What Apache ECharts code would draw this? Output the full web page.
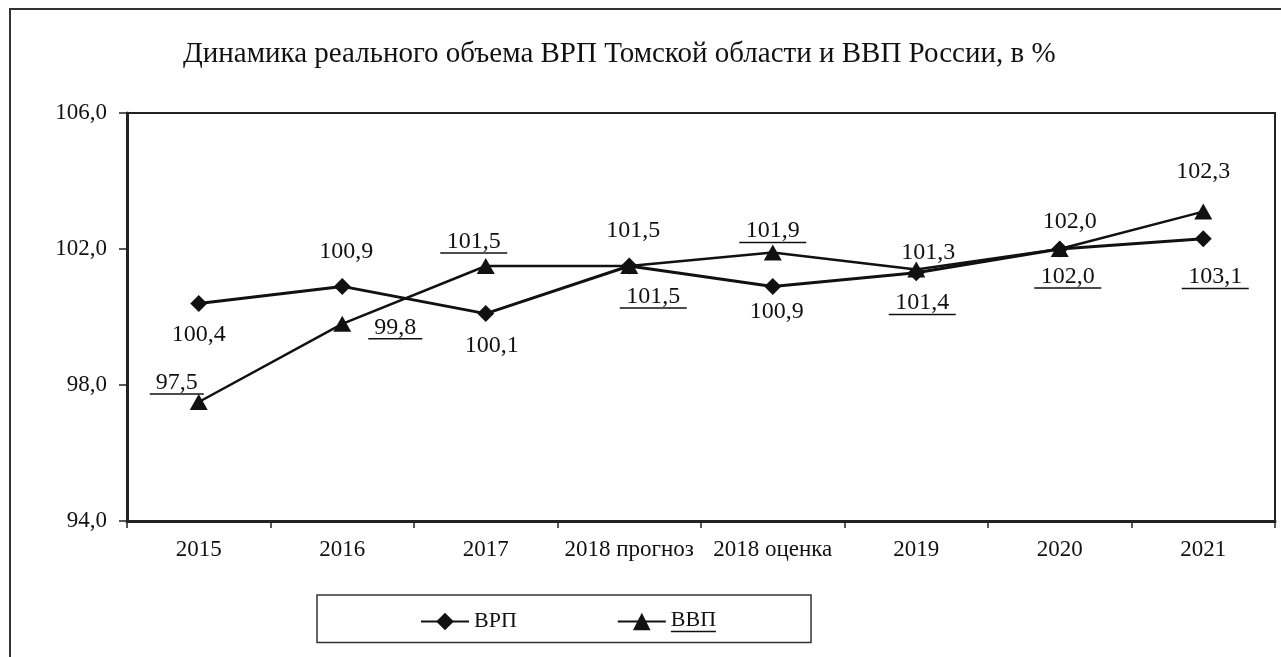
<!DOCTYPE html>
<html>
<head>
<meta charset="utf-8">
<script src="https://cdn.jsdelivr.net/npm/echarts@6/dist/echarts.min.js"></script>
<style>
  html, body { margin: 0; padding: 0; background: #fff; }
  #chart { width: 1281px; height: 657px; }
</style>
</head>
<body>
<div id="chart"></div>
<script>
var categories = ['2015', '2016', '2017', '2018 прогноз', '2018 оценка', '2019', '2020', '2021'];
var vrp = [100.4, 100.9, 100.1, 101.5, 100.9, 101.3, 102.0, 102.3];
var vvp = [97.5, 99.8, 101.5, 101.5, 101.9, 101.4, 102.0, 103.1];
var yTicks = [94, 98, 102, 106];

var FONT = 'Liberation Serif';
var INK = '#111';

function fmt(v) {
  return v.toFixed(1).replace('.', ',');
}

// label placement around each point, as seen on the picture
var vrpLabelOffset = [[0, 31], [4, -35], [6, 32], [4, -35], [4, 25], [12, -20], [10, -27], [0, -67]];
var vvpLabelOffset = [[-22, -18], [53, 5], [-12, -23], [24, 32], [0, -20], [6, 35], [8, 29], [12, 67]];

function vrpData() {
  return vrp.map(function (v, i) {
    return {
      value: v,
      label: { offset: vrpLabelOffset[i] }
    };
  });
}

function vvpData() {
  return vvp.map(function (v, i) {
    return {
      value: v,
      label: { offset: vvpLabelOffset[i] }
    };
  });
}

var chart = echarts.init(document.getElementById('chart'));

var option = {
  backgroundColor: '#fff',
  animation: false,
  textStyle: { fontFamily: FONT, color: INK },
  title: {
    text: 'Динамика реального объема ВРП Томской области и ВВП России, в %',
    left: 178,
    top: 35,
    textStyle: { fontFamily: FONT, fontSize: 29, fontWeight: 'normal', color: INK }
  },
  graphic: [
    {
      type: 'rect',
      shape: { x: 10, y: 9, width: 1300, height: 700 },
      style: { fill: 'none', stroke: '#333', lineWidth: 2 },
      silent: true
    }
  ],
  legend: {
    data: ['ВРП', 'ВВП'],
    left: 317,
    top: 595,
    padding: [14, 95, 0, 103],
    itemGap: 100,
    itemWidth: 48,
    itemHeight: 22,
    borderColor: '#333',
    borderWidth: 1.5,
    formatter: function (name) {
      return name === 'ВВП' ? '{t|ВВП}\n{u|}' : '{t|' + name + '}';
    },
    textStyle: {
      fontFamily: FONT,
      fontSize: 22,
      color: INK,
      rich: {
        t: { fontFamily: FONT, fontSize: 22, lineHeight: 20, color: INK, align: 'center' },
        u: { width: 45, height: 1.5, lineHeight: 3, backgroundColor: INK, align: 'center' }
      }
    }
  },
  grid: {
    left: 127,
    top: 113,
    right: 6,
    bottom: 136,
    show: true,
    borderColor: '#222',
    borderWidth: 2,
    containLabel: false
  },
  xAxis: {
    type: 'category',
    data: categories,
    boundaryGap: true,
    axisLine: { lineStyle: { color: '#222', width: 3 } },
    axisTick: { show: true, length: 7, lineStyle: { color: '#222', width: 1.5 } },
    axisLabel: { fontFamily: FONT, fontSize: 23, color: INK, margin: 17, interval: 0 },
    splitLine: { show: false }
  },
  yAxis: {
    type: 'value',
    min: yTicks[0],
    max: yTicks[yTicks.length - 1],
    interval: yTicks[1] - yTicks[0],
    axisLine: { show: true, lineStyle: { color: '#222', width: 3 } },
    axisTick: { show: true, length: 8, lineStyle: { color: '#222', width: 1.5 } },
    axisLabel: {
      fontFamily: FONT,
      fontSize: 23,
      color: INK,
      margin: 20,
      formatter: function (v) { return fmt(v); }
    },
    splitLine: { show: false }
  },
  series: [
    {
      name: 'ВРП',
      type: 'line',
      data: vrpData(),
      symbol: 'diamond',
      symbolSize: 17,
      itemStyle: { color: '#111' },
      lineStyle: { color: '#111', width: 3 },
      label: {
        show: true,
        position: 'inside',
        fontFamily: FONT,
        fontSize: 24,
        color: INK,
        formatter: function (p) { return fmt(p.value); }
      },
      z: 3
    },
    {
      name: 'ВВП',
      type: 'line',
      data: vvpData(),
      symbol: 'triangle',
      symbolSize: [18, 16],
      itemStyle: { color: '#111' },
      lineStyle: { color: '#111', width: 2.5 },
      label: {
        show: true,
        position: 'inside',
        formatter: function (p) {
          var s = fmt(p.value);
          return '{t|' + s + '}\n{u' + s.length + '|}';
        },
        rich: {
          t: { fontFamily: FONT, fontSize: 24, lineHeight: 20, color: INK, align: 'center' },
          u4: { width: 54, height: 1.5, lineHeight: 3, backgroundColor: INK, align: 'center' },
          u5: { width: 67, height: 1.5, lineHeight: 3, backgroundColor: INK, align: 'center' }
        }
      },
      z: 4
    }
  ]
};

chart.setOption(option);
</script>
</body>
</html>
